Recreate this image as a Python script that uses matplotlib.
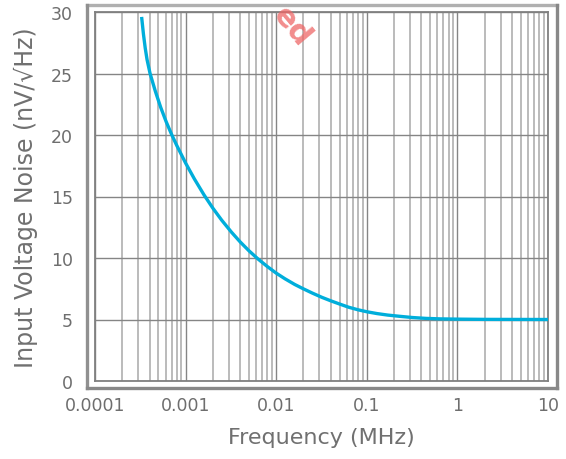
import matplotlib
matplotlib.use("Agg")
import matplotlib.pyplot as plt
from matplotlib.lines import Line2D
from matplotlib.ticker import FixedLocator, NullFormatter, LogLocator

# Data
freq_mhz = [3.27e-4, 3.424e-4, 3.585e-4, 3.754e-4, 4.05e-4, 4.624e-4, 5.309e-4, 6.095e-4,
            7.03e-4, 8e-4, 1e-3, 1.25e-3, 1.6e-3, 2e-3, 2.5e-3, 3.2e-3, 4e-3, 5e-3,
            6.3e-3, 8e-3, 1e-2, 1.25e-2, 1.6e-2, 2e-2, 2.5e-2, 3.2e-2, 4e-2, 5e-2,
            6.3e-2, 8e-2, 0.1, 0.13, 0.17, 0.23, 0.32, 0.45, 0.65, 1.0, 2.0, 10.0]
noise = [29.6, 28.21, 27.06, 26.13, 25.01, 23.58, 22.25, 21.09,
         20.02, 19.14, 17.72, 16.43, 15.12, 14.05, 13.08, 12.11, 11.31, 10.59,
         9.92, 9.30, 8.77, 8.31, 7.85, 7.49, 7.15, 6.80, 6.52, 6.26,
         6.00, 5.79, 5.63, 5.48, 5.36, 5.26, 5.16, 5.09, 5.05, 5.03, 5.01, 5.0]
x_ticks = [1e-4, 1e-3, 1e-2, 1e-1, 1, 10]
x_tick_labels = ["0.0001", "0.001", "0.01", "0.1", "1", "10"]
y_ticks = [0, 5, 10, 15, 20, 25, 30]

W, H = 566, 460
fig = plt.figure(figsize=(W / 100, H / 100), dpi=100)
plt.rcParams['font.family'] = ['DejaVu Sans']

ax = fig.add_axes([95 / W, 1 - 382 / H, (548 - 95) / W, (382 - 13) / H])
ax.set_xscale('log')
ax.set_xlim(1e-4, 10)
ax.set_ylim(0, 30)

ax.plot(freq_mhz, noise, color='#00AEDB', lw=2.4, solid_capstyle='butt',
        solid_joinstyle='round', zorder=5)

ax.xaxis.set_major_locator(FixedLocator(x_ticks))
ax.set_xticklabels(x_tick_labels)
ax.xaxis.set_minor_locator(LogLocator(base=10, subs=range(2, 10), numticks=20))
ax.xaxis.set_minor_formatter(NullFormatter())
ax.set_yticks(y_ticks)

ax.grid(which='major', color='#858585', lw=1.0)
ax.grid(which='minor', axis='x', color='#a8a8a8', lw=1.1)
ax.set_axisbelow(True)

ax.tick_params(which='both', length=0)
ax.tick_params(axis='x', pad=11, labelsize=12.5, labelcolor='#6e6e6e')
ax.tick_params(axis='y', pad=16, labelsize=12.5, labelcolor='#6e6e6e')

for s in ax.spines.values():
    s.set_color('#808080')
    s.set_linewidth(1.3)

ax.set_xlabel('Frequency (MHz)', fontsize=16, color='#707070', labelpad=9)
ax.set_ylabel('Input Voltage Noise (nV/√Hz)', fontsize=17, color='#707070', labelpad=9)

# outer frame
x0, x1, y0, y1 = 87 / W, 557 / W, 1 - 389 / H, 1 - 6 / H
fig.add_artist(Line2D([x0, x1], [y1, y1], transform=fig.transFigure, color='#b0b0b0', lw=2.4))
fig.add_artist(Line2D([x0, x0], [y0, y1], transform=fig.transFigure, color='#909090', lw=2.4))
fig.add_artist(Line2D([x0, x1], [y0, y0], transform=fig.transFigure, color='#888888', lw=2.4))
fig.add_artist(Line2D([x1, x1], [y0, y1], transform=fig.transFigure, color='#888888', lw=2.4))

# watermark fragment
fig.text(292 / W, 1 - 27 / H, 'ed', rotation=-50, fontsize=22, fontweight='bold',
         color='#ee6666', alpha=0.75, ha='center', va='center', zorder=10)

fig.savefig('out.png', dpi=100)
